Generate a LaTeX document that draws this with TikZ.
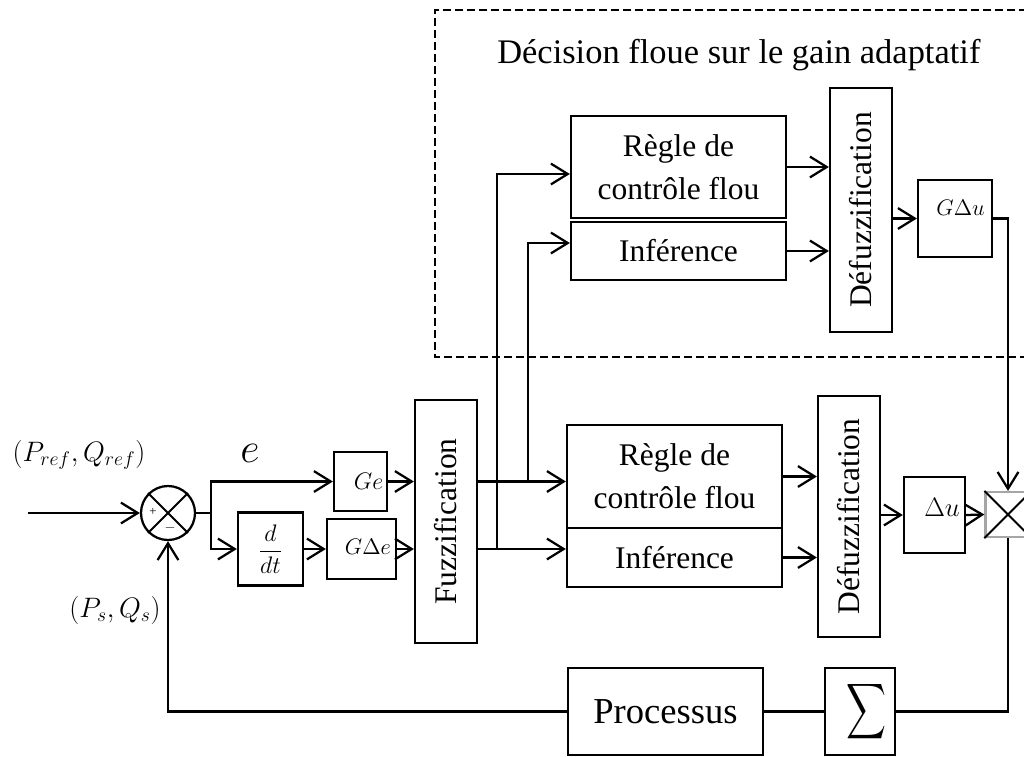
\documentclass[tikz,border=0pt]{standalone}
\usepackage{fix-cm}
\usepackage{fontspec}
\setmainfont{Liberation Serif}
\usepackage{graphicx}
\usepackage{amsmath}
\usetikzlibrary{arrows.meta, positioning, calc}

\newcommand{\blkfont}{\fontsize{22.4}{30.6}\selectfont}
\newcommand{\gainfont}{\fontsize{16}{16}\selectfont}

\tikzset{
  blk/.style={draw, line width=1.6pt, inner sep=0pt, font=\blkfont, align=center},
  gainblk/.style={blk, font=\fontsize{17}{17}\selectfont},
  arr/.style={-{Straight Barb[length=4.2mm, width=5.2mm]}, line width=1.6pt},
  wire/.style={line width=1.6pt},
  sumlbl/.style={font=\fontsize{20}{20}\selectfont, inner sep=0pt},
}

\begin{document}
\begin{tikzpicture}[x=0.025cm, y=-0.025cm]
    \useasboundingbox (0,0) rectangle (1024,756);
    \clip (0,0) rectangle (1024,756);

    % adaptive gain part
    \draw[line width=1.2pt, dash pattern=on 2mm off 1mm] (1040,357) -- (435,357) -- (435,10) -- (1040,10);
    \node[font=\fontsize{24.5}{24.5}\selectfont, anchor=west, inner sep=0pt] (titre) at (497,55) {Décision floue sur le gain adaptatif};

    % summing junction and gains
    \node[draw, circle, line width=1.6pt, minimum size=1.35cm, inner sep=0pt] (sum) at (168,513) {};
    \draw[line width=1.4pt] (sum.north west) -- (sum.south east) (sum.north east) -- (sum.south west);
    \node[font=\fontsize{9}{9}\selectfont, inner sep=0pt] (plus) at (153,512) {+};
    \node[font=\fontsize{10}{10}\selectfont, inner sep=0pt] (moins) at (170,528) {$-$};
    \coordinate (in) at (28,513);
    \coordinate (br) at (211,513);

    \node[gainblk, minimum width=1.625cm, minimum height=1.825cm] (ddt) at (270.5,549) {$\dfrac{d}{dt}$};
    \node[gainblk, minimum width=1.325cm, minimum height=1.475cm,
          label={[font=\fontsize{17}{17}\selectfont, xshift=0.2cm]center:$Ge$}] (ge) at (360.5,481.5) {};
    \node[gainblk, minimum width=1.725cm, minimum height=1.5cm,
          label={[font=\gainfont, xshift=0.16cm, yshift=0.05cm]center:$G\Delta e$}] (gde) at (361.5,549) {};

    \node[sumlbl] (pref) at (79,455) {$(P_{ref},Q_{ref})$};
    \node[font=\fontsize{30}{30}\selectfont, inner sep=0pt] (elbl) at (250,453) {$e$};
    \node[sumlbl] (ps) at (115,610) {$(P_s,Q_s)$};

    % fuzzy controller
    \node[blk, minimum width=1.55cm, minimum height=6.075cm] (fuzz) at (446,521.5) {\rotatebox{90}{Fuzzification}};
    \node[blk, minimum width=5.375cm, minimum height=2.575cm] (regle1) at (674.5,476.5) {Règle de\\contrôle flou};
    \node[blk, minimum width=5.375cm, minimum height=1.475cm] (inf1) at (674.5,557.5) {Inférence};
    \node[blk, minimum width=1.55cm, minimum height=6.025cm] (defuz1) at (849,516.5) {\rotatebox{90}{Défuzzification}};
    \node[blk, minimum width=1.525cm, minimum height=1.9cm,
          label={[font=\fontsize{19}{19}\selectfont, xshift=0.19cm, yshift=0.2cm]center:$\Delta u$}] (du) at (934.5,515) {};

    \node[blk, minimum width=5.375cm, minimum height=2.55cm] (regle2) at (678.5,167) {Règle de\\contrôle flou};
    \node[blk, minimum width=5.375cm, minimum height=1.45cm] (inf2) at (678.5,251) {Inférence};
    \node[blk, minimum width=1.55cm, minimum height=6.1cm] (defuz2) at (861,210) {\rotatebox{90}{Défuzzification}};
    \node[blk, minimum width=1.85cm, minimum height=1.925cm,
          label={[font=\gainfont, xshift=0.14cm, yshift=0.26cm]center:$G\Delta u$}] (gdu) at (955,218.5) {};

    \node[draw=gray!70, line width=1.6pt, minimum size=1.125cm, inner sep=0pt] (mult) at (1008,514.5) {};
    \draw[line width=1.3pt] (mult.north west) -- (mult.south east) (mult.north east) -- (mult.south west);

    % plant
    \node[blk, minimum width=4.875cm, minimum height=2.175cm, font=\fontsize{26}{26}\selectfont] (proc) at (665.5,711.5) {Processus};
    \node[blk, minimum width=1.75cm, minimum height=2.175cm] (sigma) at (860,711.5)
        {\hspace*{0.3cm}\resizebox*{1cm}{1.55cm}{$\displaystyle\sum$}};

    % connectors
    \draw[arr] (in) -- (sum.west);
    \draw[wire] (sum.east) -- (br);
    \draw[arr] (br) |- (ge.west);
    \draw[arr] (br) |- (ddt.west);
    \draw[arr] (ddt.east) -- (ddt.east -| gde.west);
    \draw[arr] (ge.east) -- (ge.east -| fuzz.west);
    \draw[arr] (gde.east) -- (gde.east -| fuzz.west);

    \draw[arr] (fuzz.east |- ge.east) -- (regle1.west |- ge.east);
    \draw[arr] (fuzz.east |- gde.east) -- (inf1.west |- gde.east);
    \path (fuzz.east |- ge.east) ++(50,0) coordinate (b1);
    \path (fuzz.east |- gde.east) ++(19,0) coordinate (b2);
    \draw[arr] (b1) |- ([yshift=0.2cm]inf2.west);
    \draw[arr] (b2) |- ([yshift=-0.175cm]regle2.west);

    \draw[arr] (regle1.east) -- (regle1.east -| defuz1.west);
    \draw[arr] (inf1.east) -- (inf1.east -| defuz1.west);
    \draw[arr] (regle2.east) -- (regle2.east -| defuz2.west);
    \draw[arr] (inf2.east) -- (inf2.east -| defuz2.west);
    \draw[arr] (defuz1.east |- du.west) -- (du.west);
    \draw[arr] (du.east) -- (mult.west);
    \draw[arr] (defuz2.east |- gdu.west) -- (gdu.west);
    \draw[arr] (gdu.east) -| (mult.north);

    \draw[wire] (mult.south) |- (sigma.east);
    \draw[wire] (sigma.west) -- (proc.east);
    \draw[arr] (proc.west) -| (sum.south);
\end{tikzpicture}
\end{document}
